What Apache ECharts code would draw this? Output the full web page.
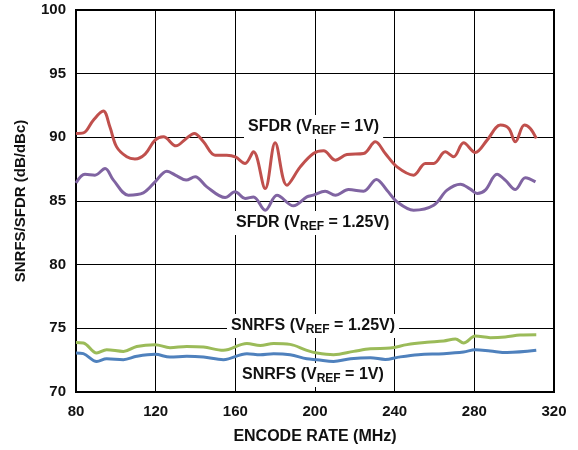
<!DOCTYPE html>
<html><head><meta charset="utf-8">
<script src="https://cdn.jsdelivr.net/npm/echarts@6/dist/echarts.min.js"></script>
<style>html,body{margin:0;padding:0;background:#fff}#c{width:578px;height:450px}</style>
</head><body><div id="c"></div>
<script>
// Data
const xTicks = [80, 120, 160, 200, 240, 280, 320];
const yTicks = [70, 75, 80, 85, 90, 95, 100];

const sfdr1X = [80, 83.7, 88.7, 93.7, 97, 100.4, 105.5, 109.6, 114.7, 119.7, 123.9, 130.2, 134.8, 139.4, 144, 149.8, 155.7, 160, 164.9, 169.1, 175, 180, 185.9, 192.6, 199.2, 204.3, 210.2, 216, 224.4, 230.3, 235.3, 241.2, 249.5, 255.4, 259.6, 265.4, 269.6, 274.6, 280.5, 286.4, 293.1, 297.3, 300.6, 305.1, 308.1, 311.1];
const sfdr1Y = [90.31, 90.35, 91.35, 92.06, 90.83, 89.25, 88.47, 88.3, 88.68, 89.78, 90.04, 89.33, 89.83, 90.31, 89.65, 88.6, 88.6, 88.47, 87.95, 88.86, 85.98, 89.57, 86.24, 87.68, 88.73, 88.94, 88.21, 88.65, 88.73, 89.65, 88.73, 87.68, 87.03, 87.95, 87.95, 88.86, 88.47, 89.57, 88.81, 89.78, 90.96, 90.7, 89.65, 90.96, 90.7, 89.91];

const sfdr125X = [80, 84.5, 89.5, 94.6, 98.8, 106.3, 113.8, 119.7, 125.6, 130.6, 135.3, 139.8, 145.7, 154.9, 159.9, 164.9, 169.1, 175, 180.9, 189.2, 195.9, 199.2, 205.1, 210.2, 216.8, 224.4, 230.8, 236.1, 241.2, 249.5, 259.6, 266.3, 273, 278, 281.4, 285.5, 291.4, 295.5, 300.6, 305.6, 310.7];
const sfdr125Y = [86.42, 87.1, 87.03, 87.55, 86.64, 85.46, 85.64, 86.5, 87.34, 86.97, 86.64, 86.9, 86.11, 85.27, 85.72, 85.2, 85.32, 84.28, 85.46, 84.62, 85.32, 85.46, 85.77, 85.46, 85.9, 85.77, 86.69, 85.85, 84.93, 84.28, 84.67, 85.85, 86.32, 85.93, 85.59, 85.85, 87.1, 86.64, 85.9, 86.82, 86.5];

const snr125X = [80, 83.7, 90.4, 95.4, 103.8, 110.5, 119.7, 127.2, 135.6, 144, 154, 165.8, 172.5, 179.2, 187.5, 195.9, 201, 209.3, 219.4, 227.8, 237.8, 246.2, 256.2, 264.6, 270.5, 274.6, 280.5, 288, 295.5, 303, 311.1];
const snr125Y = [73.88, 73.85, 73.06, 73.32, 73.19, 73.58, 73.72, 73.48, 73.58, 73.53, 73.27, 73.8, 73.66, 73.8, 73.74, 73.27, 73.06, 72.93, 73.19, 73.4, 73.45, 73.72, 73.9, 74.0, 74.16, 73.85, 74.39, 74.27, 74.32, 74.47, 74.5];

const snr1X = [80, 83.7, 90.4, 95.4, 103.8, 110.5, 119.7, 127.2, 135.6, 144, 154, 165.8, 172.5, 179.2, 187.5, 195.9, 201, 209.3, 217.8, 227.8, 235.3, 241.9, 251.9, 264.6, 274.6, 280.5, 288, 296.4, 311.1];
const snr1Y = [73.06, 73.01, 72.4, 72.61, 72.54, 72.8, 72.96, 72.74, 72.8, 72.74, 72.54, 73.01, 72.93, 73.01, 72.93, 72.61, 72.54, 72.4, 72.61, 72.69, 72.56, 72.74, 72.93, 73.01, 73.14, 73.32, 73.22, 73.1, 73.27];

const pair = (xs, ys) => xs.map((x, i) => [x, ys[i]]);
const FONT = '"Liberation Sans", Arial, sans-serif';
const TXT = '#111';

const chart = echarts.init(document.getElementById('c'), null, {renderer: 'canvas'});

function lbl(main1, sub, main2, left, top) {
  return {
    type: 'text', left: left, top: top, z: 1,
    style: {
      text: '{a|' + main1 + '}{s|' + sub + '}{a|' + main2 + '}',
      backgroundColor: '#fff',
      padding: [2, 4, 2, 4],
      rich: {
        a: {fontFamily: FONT, fontWeight: 'bold', fontSize: 16, fill: TXT, color: TXT},
        s: {fontFamily: FONT, fontWeight: 'bold', fontSize: 12, fill: TXT, color: TXT, padding: [8, 0, 0, 0]}
      }
    }
  };
}

chart.setOption({
  animation: false,
  grid: {left: 76, right: 24, top: 10, bottom: 58, show: true, borderColor: '#000', borderWidth: 2, z: 3},
  xAxis: {
    type: 'value', min: 80, max: 320, interval: 40,
    name: 'ENCODE RATE (MHz)', nameLocation: 'middle', nameGap: 37,
    nameTextStyle: {fontFamily: FONT, fontWeight: 'bold', fontSize: 16, color: TXT},
    axisLine: {show: false}, axisTick: {show: false},
    axisLabel: {fontFamily: FONT, fontWeight: 'bold', fontSize: 15, color: TXT, margin: 12,
      formatter: v => xTicks.includes(v) ? String(v) : ''},
    splitLine: {show: true, lineStyle: {color: '#000', width: 1}}
  },
  yAxis: {
    type: 'value', min: 70, max: 100, interval: 5,
    name: 'SNRFS/SFDR (dB/dBc)', nameLocation: 'middle', nameGap: 48,
    nameTextStyle: {fontFamily: FONT, fontWeight: 'bold', fontSize: 15, color: TXT},
    axisLine: {show: false}, axisTick: {show: false},
    axisLabel: {fontFamily: FONT, fontWeight: 'bold', fontSize: 15, color: TXT, margin: 10,
      formatter: v => yTicks.includes(v) ? String(v) : ''},
    splitLine: {show: true, lineStyle: {color: '#000', width: 1}}
  },
  graphic: [
    lbl('SFDR (V', 'REF', ' = 1V)', 244, 115),
    lbl('SFDR (V', 'REF', ' = 1.25V)', 232, 211),
    lbl('SNRFS (V', 'REF', ' = 1.25V)', 227, 314),
    lbl('SNRFS (V', 'REF', ' = 1V)', 238, 363)
  ],
  series: [
    {type: 'line', data: pair(sfdr1X, sfdr1Y), smooth: 0.35, showSymbol: false, z: 5, lineStyle: {color: '#C0504D', width: 3}},
    {type: 'line', data: pair(sfdr125X, sfdr125Y), smooth: 0.35, showSymbol: false, z: 5, lineStyle: {color: '#8064A2', width: 3}},
    {type: 'line', data: pair(snr125X, snr125Y), smooth: 0.35, showSymbol: false, z: 5, lineStyle: {color: '#9BBB59', width: 3}},
    {type: 'line', data: pair(snr1X, snr1Y), smooth: 0.35, showSymbol: false, z: 5, lineStyle: {color: '#4F81BD', width: 3}}
  ]
});
</script></body></html>
